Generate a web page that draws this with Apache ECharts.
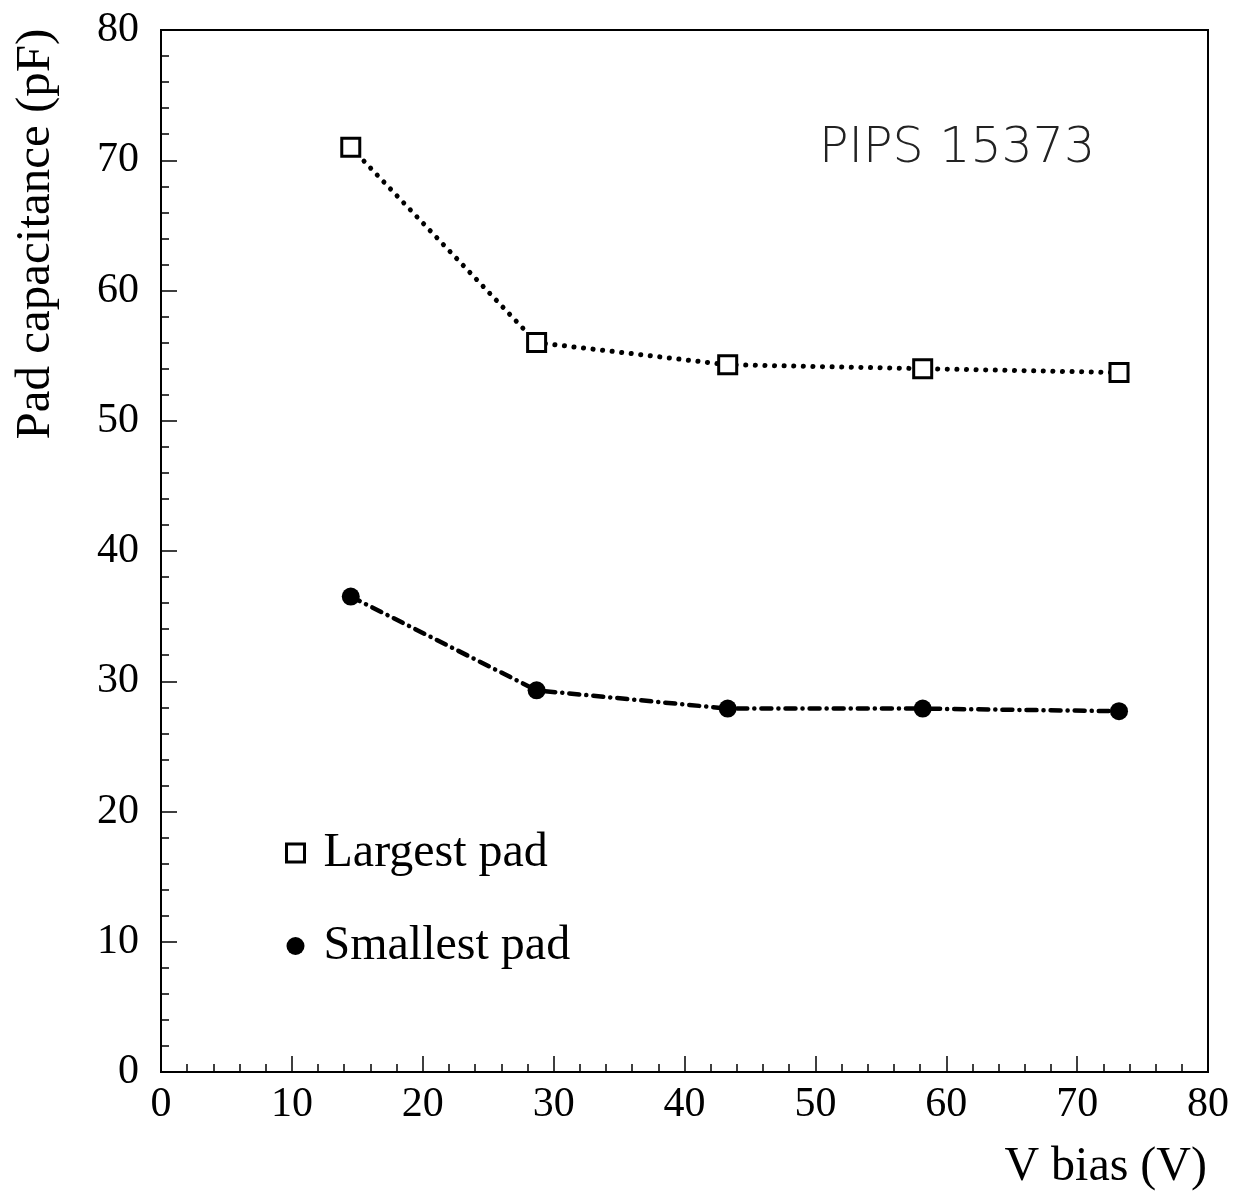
<!DOCTYPE html>
<html><head><meta charset="utf-8">
<script src="https://cdn.jsdelivr.net/npm/echarts@6/dist/echarts.min.js"></script>
<style>html,body{margin:0;padding:0;background:#fff}#c{width:1234px;height:1195px}</style>
</head><body><div id="c"></div>
<script>
const vBias = [14.5, 28.7, 43.3, 58.2, 73.2];
const largestPad = [71.0, 56.0, 54.3, 54.0, 53.7];
const smallestPad = [36.5, 29.3, 27.9, 27.9, 27.7];
const seriesNames = ['Largest pad', 'Smallest pad'];
const title = 'PIPS 15373';
const xName = 'V bias (V)';
const yName = 'Pad capacitance (pF)';

const serif = '"Liberation Serif", "Times New Roman", serif';
const chart = echarts.init(document.getElementById('c'));
chart.setOption({
  animation: false,
  backgroundColor: '#fff',
  grid: { left: 161, right: 26, top: 30, bottom: 123, show: true, borderColor: '#000', borderWidth: 2, backgroundColor: 'transparent' },
  xAxis: {
    type: 'value', min: 0, max: 80, interval: 10,
    axisLine: { onZero: false, lineStyle: { color: '#000', width: 2 } },
    axisTick: { inside: true, length: 16, lineStyle: { color: '#000', width: 1.5 } },
    minorTick: { show: true, splitNumber: 5, length: 8, lineStyle: { color: '#000', width: 1.5 } },
    splitLine: { show: false },
    axisLabel: { fontFamily: serif, fontSize: 42, color: '#000', margin: 12 }
  },
  yAxis: {
    type: 'value', min: 0, max: 80, interval: 10,
    axisLine: { show: true, onZero: false, lineStyle: { color: '#000', width: 2 } },
    axisTick: { show: true, inside: true, length: 16, lineStyle: { color: '#000', width: 1.5 } },
    minorTick: { show: true, splitNumber: 5, length: 8, lineStyle: { color: '#000', width: 1.5 } },
    splitLine: { show: false },
    axisLabel: { fontFamily: serif, fontSize: 42, color: '#000', margin: 22 }
  },
  legend: {
    orient: 'vertical', left: 280, top: 824, itemGap: 45, itemWidth: 18, itemHeight: 18,
    textStyle: { fontFamily: serif, fontSize: 48, color: '#000', padding: [0, 0, 0, 14] },
    data: [
      { name: seriesNames[0], icon: 'rect', itemStyle: { color: '#fff', borderColor: '#000', borderWidth: 3 } },
      { name: seriesNames[1], icon: 'circle', itemStyle: { color: '#000', borderWidth: 0 } }
    ]
  },
  graphic: [
    { type: 'text', left: 819, top: 125, style: { text: title, font: '300 49px "DejaVu Sans", sans-serif', fill: '#222' } },
    { type: 'text', x: 36, y: 234, rotation: Math.PI / 2, style: { text: yName, font: '49px ' + serif, fill: '#000', align: 'center', verticalAlign: 'middle' } },
    { type: 'text', x: 1207, y: 1167, style: { text: xName, font: '48px ' + serif, fill: '#000', align: 'right', verticalAlign: 'middle' } }
  ],
  series: [
    {
      name: seriesNames[0], type: 'line',
      data: vBias.map((v, i) => [v, largestPad[i]]),
      symbol: 'rect', symbolSize: 18,
      itemStyle: { color: '#fff', borderColor: '#000', borderWidth: 3 },
      lineStyle: { color: '#000', width: 5, type: [0.1, 9.5], cap: 'round' },
      z: 3
    },
    {
      name: seriesNames[1], type: 'line',
      data: vBias.map((v, i) => [v, smallestPad[i]]),
      symbol: 'circle', symbolSize: 18,
      itemStyle: { color: '#000', borderWidth: 0 },
      lineStyle: { color: '#000', width: 4.5, type: [10, 7, 0.1, 7], cap: 'round' },
      z: 3
    }
  ]
});
</script></body></html>
